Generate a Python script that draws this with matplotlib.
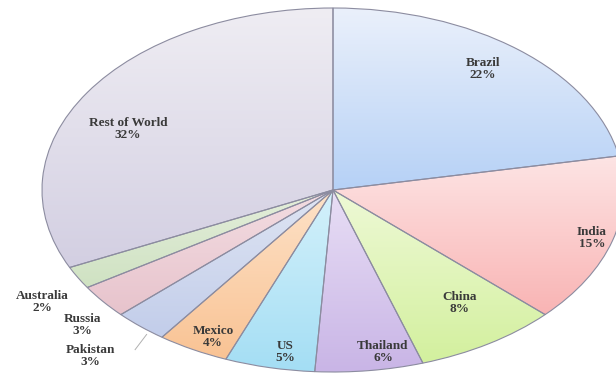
import numpy as np
import matplotlib.pyplot as plt
from matplotlib.colors import to_rgb

# --- Data ---
countries = ['Brazil', 'India', 'China', 'Thailand', 'US', 'Mexico',
             'Pakistan', 'Russia', 'Australia', 'Rest of World']
shares = [22, 15, 8, 6, 5, 4, 3, 3, 2, 32]

# --- Style ---
# gradient colours for each slice (top -> bottom)
top_colors = ['#eaf0fb', '#fde4e4', '#eef9d6', '#e8def5', '#d4f1fb', '#fde2c8',
              '#dfe5f3', '#f3dde2', '#e4eedb', '#efedf3']
bottom_colors = ['#b6d1f6', '#f9b4b4', '#d3f09e', '#c9b5e6', '#a4def4', '#f9c394',
                 '#c2cdea', '#e7c3cc', '#cfe2c2', '#d3cfe2']
# label centres in data units of the (stretched) pie
label_pos = [(0.515, 0.665), (0.89, -0.264), (0.436, -0.621), (0.172, -0.89),
             (-0.165, -0.89), (-0.412, -0.808), (-0.835, -0.912),
             (-0.862, -0.742), (-1.0, -0.615), (-0.704, 0.335)]

W, H = 616, 375
CX, CY, RX, RY = 333, 190, 291, 182   # pie centre / radii in pixels

fig = plt.figure(figsize=(W / 100, H / 100), dpi=100)
fig.patch.set_facecolor('white')
ax = fig.add_axes([(CX - RX) / W, (H - CY - RY) / H, 2 * RX / W, 2 * RY / H])

wedges, _ = ax.pie(shares, startangle=90, counterclock=False, radius=1,
                   wedgeprops=dict(edgecolor='#8c8ca0', linewidth=0.8))

for w, c_top, c_bot in zip(wedges, top_colors, bottom_colors):
    x0, y0, x1, y1 = w.get_path().get_extents().extents
    t = np.linspace(0, 1, 64)[:, None]
    grad = (1 - t) * np.array(to_rgb(c_bot)) + t * np.array(to_rgb(c_top))
    im = ax.imshow(grad[:, None, :], extent=(x0, x1, y0, y1), origin='lower',
                   aspect='auto', interpolation='bilinear', zorder=1)
    im.set_clip_path(w)
    w.set_facecolor('none')
    w.set_zorder(2)

for name, val, (lx, ly) in zip(countries, shares, label_pos):
    ax.text(lx, ly, f'{name}\n{val}%', ha='center', va='center',
            family=['Liberation Serif', 'DejaVu Serif'], fontweight='bold',
            fontsize=9.5, color='#3a3a3a', linespacing=1.0, zorder=4)

# leader line for Pakistan
i = countries.index('Pakistan')
mid = np.deg2rad(90 - 3.6 * (sum(shares[:i]) + shares[i] / 2) + 2.5)
ax.plot([np.cos(mid) * 1.02, label_pos[i][0] + 0.155],
        [np.sin(mid) * 1.02, label_pos[i][1] + 0.035],
        color='#b0b0b0', linewidth=0.7, zorder=3, clip_on=False)

ax.set_aspect('auto')
ax.set_xlim(-1, 1)
ax.set_ylim(-1, 1)
ax.axis('off')

fig.savefig('out.png', dpi=100, facecolor='white')
